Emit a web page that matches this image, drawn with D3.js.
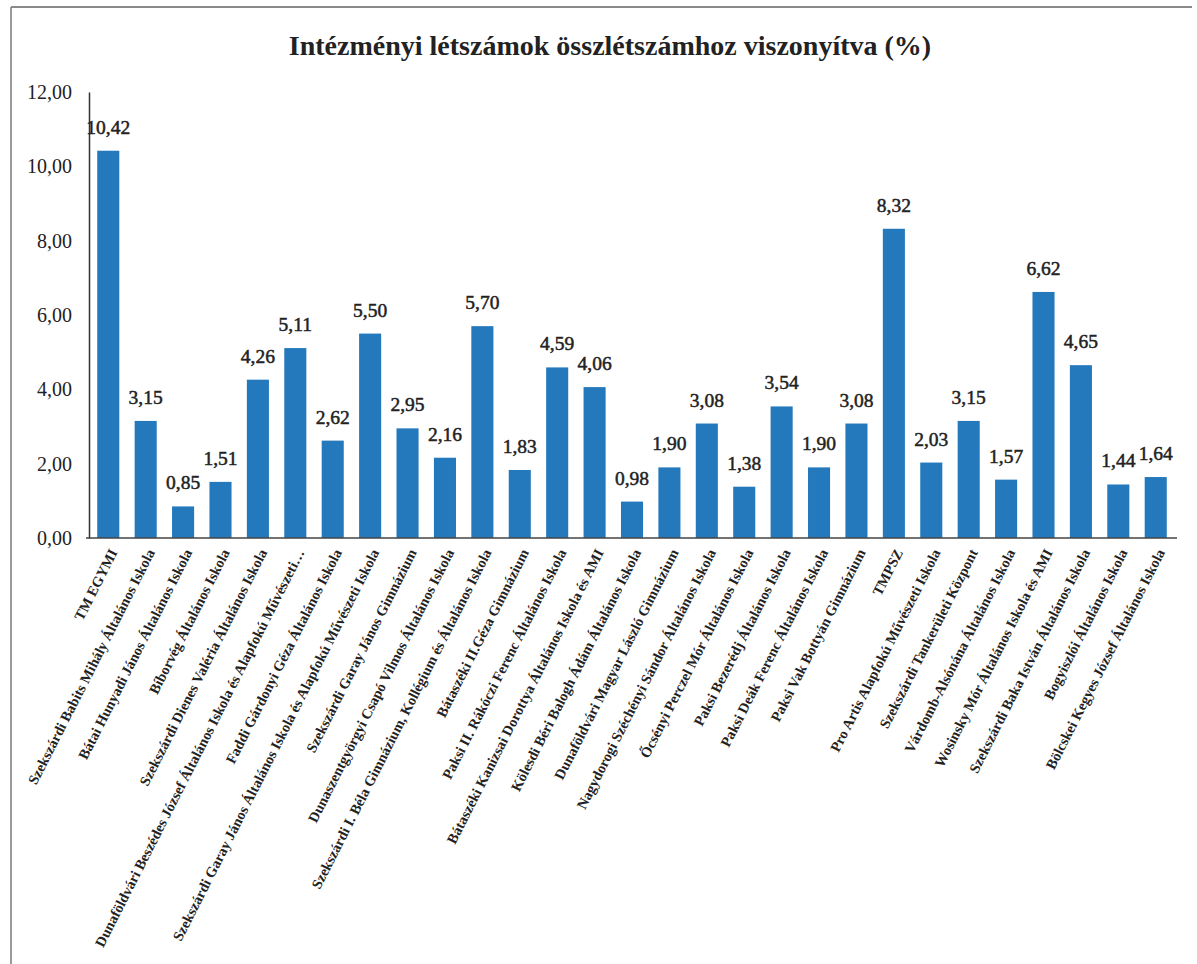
<!DOCTYPE html>
<html>
<head>
<meta charset="utf-8">
<script src="https://cdn.jsdelivr.net/npm/d3@7"></script>
<style>
  body { margin: 0; background: #fff; }
  svg { display: block; }
  svg text { font-family: "Liberation Serif", "Times New Roman", serif; fill: #222; }
</style>
</head>
<body>
<div id="chart"></div>
<script>
var title = "Intézményi létszámok összlétszámhoz viszonyítva (%)";

var schools = [
    "TM EGYMI",
    "Szekszárdi Babits Mihály Általános Iskola",
    "Bátai Hunyadi János Általános Iskola",
    "Bíborvég Általános Iskola",
    "Szekszárdi Dienes Valéria Általános Iskola",
    "Dunaföldvári Beszédes József Általános Iskola és Alapfokú Művészeti…",
    "Faddi Gárdonyi Géza Általános Iskola",
    "Szekszárdi Garay János Általános Iskola és Alapfokú Művészeti Iskola",
    "Szekszárdi Garay János Gimnázium",
    "Dunaszentgyörgyi Csapó Vilmos Általános Iskola",
    "Szekszárdi I. Béla Gimnázium, Kollégium és Általános Iskola",
    "Bátaszéki II.Géza Gimnázium",
    "Paksi II. Rákóczi Ferenc Általános Iskola",
    "Bátaszéki Kanizsai Dorottya Általános Iskola és AMI",
    "Kölesdi Béri Balogh Ádám Általános Iskola",
    "Dunaföldvári Magyar László Gimnázium",
    "Nagydorogi Széchényi Sándor Általános Iskola",
    "Őcsényi Perczel Mór Általános Iskola",
    "Paksi Bezerédj Általános Iskola",
    "Paksi Deák Ferenc Általános Iskola",
    "Paksi Vak Bottyán Gimnázium",
    "TMPSZ",
    "Pro Artis Alapfokú Művészeti Iskola",
    "Szekszárdi Tankerületi Központ",
    "Várdomb-Alsónána Általános Iskola",
    "Wosinsky Mór Általános Iskola és AMI",
    "Szekszárdi Baka István Általános Iskola",
    "Bogyiszlói Általános Iskola",
    "Bölcskei Kegyes József Általános Iskola"
];

var shares = [
    10.42, 3.15, 0.85, 1.51, 4.26, 5.11, 2.62, 5.50, 2.95, 2.16,
    5.70, 1.83, 4.59, 4.06, 0.98, 1.90, 3.08, 1.38, 3.54, 1.90,
    3.08, 8.32, 2.03, 3.15, 1.57, 6.62, 4.65, 1.44, 1.64
];

var yTicks = [0, 2, 4, 6, 8, 10, 12];

var W = 1197, H = 964;
var plot = {l: 89, r: 1175, t: 92, b: 538};

var hu = d3.formatLocale({decimal: ",", thousands: " ", grouping: [3], currency: ["", " Ft"]});
var fmt = hu.format(".2f");

var data = schools.map(function(s, i) { return {name: s, value: shares[i]}; });

var svg = d3.select("#chart").append("svg")
    .attr("width", W)
    .attr("height", H);

// scanned page frame
svg.append("line").attr("x1", 11).attr("x2", 11).attr("y1", 7).attr("y2", H)
    .attr("stroke", "#9a9a9a").attr("stroke-width", 2);
svg.append("line").attr("x1", 11).attr("x2", 1192).attr("y1", 7).attr("y2", 7)
    .attr("stroke", "#8a8a8a").attr("stroke-width", 2);

// title
svg.append("text")
    .attr("x", 610).attr("y", 55)
    .attr("text-anchor", "middle")
    .attr("font-size", 28)
    .attr("font-weight", "bold")
    .text(title);

var x = d3.scaleBand()
    .domain(schools)
    .range([plot.l, plot.r])
    .paddingInner(0.41)
    .paddingOuter(0.22);

var y = d3.scaleLinear()
    .domain([0, 12])
    .range([plot.b, plot.t]);

// y axis
var yAxis = svg.append("g")
    .attr("transform", "translate(" + plot.l + ",0)")
    .call(d3.axisLeft(y).tickValues(yTicks).tickFormat(fmt).tickSize(0).tickPadding(17));
yAxis.attr("font-family", null);
yAxis.select(".domain").attr("stroke", "#333").attr("stroke-width", 1.5);
yAxis.selectAll("text")
    .attr("font-size", 20)
    .attr("fill", "#222");

// bars
svg.selectAll(".bar").data(data).enter()
    .append("rect").attr("class", "bar")
    .attr("x", function(d) { return x(d.name); })
    .attr("y", function(d) { return y(d.value); })
    .attr("width", x.bandwidth())
    .attr("height", function(d) { return y(0) - y(d.value); })
    .attr("fill", "#2479bd");

// value labels
svg.selectAll(".val").data(data).enter()
    .append("text").attr("class", "val")
    .attr("x", function(d) { return x(d.name) + x.bandwidth() / 2; })
    .attr("y", function(d) { return y(d.value) - 17; })
    .attr("text-anchor", "middle")
    .attr("font-size", 19.5)
    .attr("stroke", "#222")
    .attr("stroke-width", 0.5)
    .text(function(d) { return fmt(d.value); });

// x axis
var xAxis = svg.append("g")
    .attr("transform", "translate(0," + plot.b + ")")
    .call(d3.axisBottom(x).tickSize(0).tickSizeOuter(0).tickPadding(0));
xAxis.attr("font-family", null);
xAxis.select(".domain").attr("stroke", "#444").attr("stroke-width", 1.5)
    .attr("d", "M" + (plot.l - 3) + ",0H" + (plot.r + 2));
xAxis.selectAll(".tick text")
    .attr("font-size", 14.5)
    .attr("font-weight", "bold")
    .attr("fill", "#222")
    .attr("text-anchor", "end")
    .attr("x", 0).attr("y", 0).attr("dy", "0.35em")
    .attr("transform", "translate(5,12) rotate(-63)");
</script>
</body>
</html>
